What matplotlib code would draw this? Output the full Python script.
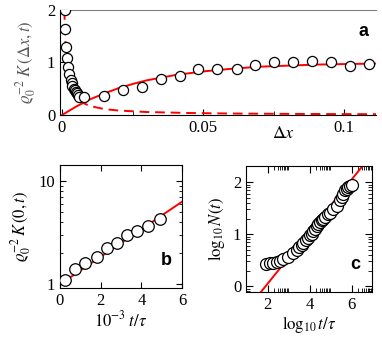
import matplotlib
matplotlib.use("Agg")
import matplotlib.pyplot as plt
import numpy as np

plt.rcParams['font.family'] = ['Liberation Serif', 'DejaVu Serif']
plt.rcParams['mathtext.fontset'] = 'stix'
plt.rcParams['font.size'] = 12

# panel a: correlation vs separation
a_dx = [0.0011, 0.0012, 0.0016, 0.0019, 0.0023, 0.0026, 0.0031, 0.0034, 0.0037,
        0.0041, 0.0045, 0.0049, 0.0053, 0.0057, 0.0062, 0.0079,
        0.0149, 0.0215, 0.0283, 0.035, 0.0418, 0.0483, 0.0551, 0.062, 0.0684,
        0.0752, 0.082, 0.0885, 0.0953, 0.1021, 0.1089]
a_K = [2.0, 1.63, 1.30, 1.08, 0.92, 0.79, 0.67, 0.60, 0.55,
       0.50, 0.47, 0.44, 0.41, 0.38, 0.35, 0.34,
       0.37, 0.48, 0.53, 0.68, 0.74, 0.88, 0.88, 0.87, 0.95,
       1.0, 1.0, 1.03, 1.0, 0.94, 0.98]
a_fit_x = [0, 0.005, 0.01, 0.015, 0.02, 0.025, 0.03, 0.035, 0.04, 0.05, 0.06,
           0.07, 0.08, 0.09, 0.1, 0.112]
a_fit_y = [0, 0.16, 0.30, 0.41, 0.51, 0.59, 0.66, 0.71, 0.76, 0.83, 0.88,
           0.92, 0.94, 0.96, 0.97, 0.98]
a_dash_x = [0.00085, 0.001, 0.0012, 0.0015, 0.002, 0.003, 0.004, 0.005, 0.007,
            0.01, 0.015, 0.02, 0.03, 0.045, 0.06, 0.08, 0.1, 0.112]
a_dash_y = [2.0, 1.7, 1.42, 1.13, 0.85, 0.57, 0.43, 0.34, 0.24,
            0.17, 0.113, 0.085, 0.057, 0.038, 0.028, 0.021, 0.017, 0.015]

# panel b: K(0,t) vs time
b_t = [0.25, 0.75, 1.25, 1.8, 2.3, 2.8, 3.3, 3.8, 4.35, 4.9]
b_K = [1.11, 1.40, 1.61, 1.82, 2.25, 2.52, 2.97, 3.25, 3.66, 4.25]
b_fit_t = [0, 6]
b_fit_K = [1.0, 6.3]

# panel c: log N vs log t
c_logt = [1.93, 2.11, 2.27, 2.43, 2.59, 2.74, 2.98, 3.22, 3.38, 3.5, 3.62, 3.7,
          3.82, 3.93, 4.02, 4.1, 4.17, 4.25, 4.33, 4.41, 4.49, 4.57, 4.65, 4.75,
          4.89, 4.98, 5.12, 5.29, 5.44, 5.52, 5.6, 5.68, 5.76, 5.85, 5.92, 6.0]
c_logN = [0.42, 0.45, 0.45, 0.47, 0.49, 0.52, 0.56, 0.63, 0.69, 0.75, 0.80, 0.84,
          0.89, 0.92, 0.98, 1.01, 1.07, 1.10, 1.15, 1.2, 1.23, 1.27, 1.30, 1.34,
          1.39, 1.41, 1.49, 1.55, 1.65, 1.71, 1.78, 1.84, 1.87, 1.9, 1.93, 1.95]
c_fit_x = [1.5, 7.0]
c_fit_y = [-0.2, 2.55]

W, H = 382, 344
fig = plt.figure(figsize=(W / 100, H / 100), dpi=100)

def box(l, t, r, b):
    return [l / W, 1 - b / H, (r - l) / W, (b - t) / H]

circ = dict(ls='none', marker='o', mfc='white', mec='black', mew=0.9, zorder=3)

# ---- a ----
ax = fig.add_axes(box(60, 10, 376, 115))
ax.plot(a_fit_x, a_fit_y, color='red', lw=1.4, zorder=2)
ax.plot(a_dash_x, a_dash_y, color='red', lw=1.4, ls=(0, (5, 3)), zorder=2)
ax.plot(a_dx, a_K, ms=7.3, **circ)
ax.set_xticks([0, 0.05, 0.1])
ax.set_xticklabels(['0', '0.05', '0.1'])
ax.set_xticks([0.025, 0.075], minor=True)
ax.set_yticks([0, 1, 2])
ax.set_xlim(-0.0007, 0.1113)
ax.set_ylim(0, 2)
ax.tick_params(direction='in', length=4, width=0.8, top=False, right=False)
ax.tick_params(which='minor', direction='in', length=3, top=False)
ax.spines['right'].set_visible(False)
ax.spines['top'].set_color('0.5')
ax.set_ylabel(r'$\varrho_0^{-2}\;K\,(\Delta x,t)$', color='0.35', labelpad=6)
ax.text((284 - 60) / 316, -0.18, r'$\Delta x$', transform=ax.transAxes,
        ha='center', va='center', fontsize=13)
ax.text(0.96, 0.8, 'a', transform=ax.transAxes, ha='center', va='center',
        fontsize=13, fontweight='bold', family='Liberation Sans')

# ---- b ----
bx = fig.add_axes(box(60, 165, 182, 288))
bx.plot(b_fit_t, b_fit_K, color='red', lw=1.4, zorder=2)
bx.plot(b_t, b_K, ms=8.3, **circ)
bx.set_yscale('log')
bx.set_xticks([0, 2, 4, 6])
bx.set_yticks([1, 10])
bx.set_yticklabels(['1', '10'])
bx.set_xlim(0, 6)
bx.set_ylim(0.92, 14.3)
bx.tick_params(direction='in', length=4, width=0.8, top=True, right=True)
bx.tick_params(which='minor', direction='in', length=2.5, right=True)
bx.set_ylabel(r'$\varrho_0^{-2}\,K\,(0,t)$', labelpad=4)
bx.set_xlabel(r'$10^{-3}\;t/\tau$', labelpad=1)
bx.text(0.87, 0.22, 'b', transform=bx.transAxes, ha='center', va='center',
        fontsize=13, fontweight='bold', family='Liberation Sans')

# ---- c ----
cx = fig.add_axes(box(246, 166, 372, 292))
cx.plot(c_fit_x, c_fit_y, color='red', lw=1.4, zorder=2)
cx.plot(c_logt, c_logN, ms=8.6, **circ)
cx.set_xticks([2, 4, 6])
cx.set_yticks([0, 1, 2])
k_log = np.log10(np.arange(2, 10))
cx.set_xticks([m + k for m in [0, 2, 4, 6] for k in k_log], minor=True)
cx.set_yticks([m + k for m in [-1, 0, 1, 2] for k in k_log], minor=True)
cx.set_xlim(0.97, 6.97)
cx.set_ylim(-0.11, 2.31)
cx.tick_params(direction='in', length=5, width=0.8, top=True, right=True)
cx.tick_params(which='minor', direction='in', length=3, width=0.6,
               top=True, right=True)
cx.set_ylabel(r'$\log_{10}N(t)$', labelpad=4)
cx.set_xlabel(r'$\log_{10}t/\tau$', labelpad=1)
cx.text(0.87, 0.22, 'c', transform=cx.transAxes, ha='center', va='center',
        fontsize=13, fontweight='bold', family='Liberation Sans')

fig.savefig('out.png', dpi=100)
